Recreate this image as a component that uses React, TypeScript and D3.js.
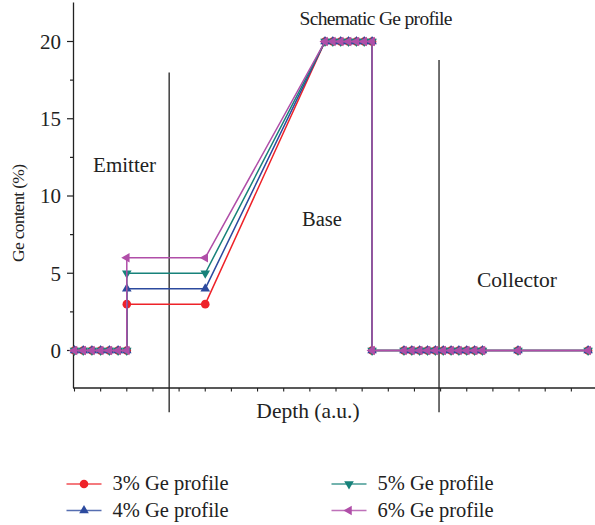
import React from "react";
import * as d3 from "d3";

// ---- data ----
const leftZeroX = [0, 0.333, 0.667, 1, 1.333, 1.667, 2];
const plateauX = [2, 5];
const topX = [9.58, 9.88, 10.18, 10.48, 10.78, 11.08, 11.38];
const dropX = [11.38];
const rightZeroX = [12.6, 12.9, 13.2, 13.5, 13.8, 14.1, 14.4, 14.7, 15.0, 15.3, 15.6, 16.96, 19.64];

const seriesNames = ["3% Ge profile", "4% Ge profile", "5% Ge profile", "6% Ge profile"];
const seriesLevels = [3, 4, 5, 6];
const peakLevel = 20;
const seriesColors = ["#ee2229", "#2c4a9e", "#17827a", "#b04ea8"];
const seriesMarkers = ["circle", "up", "down", "left"];

const yMajorTicks = [0, 5, 10, 15, 20];
const yMinorTicks = [2.5, 7.5, 12.5, 17.5];
const xTicks = d3.range(0, 21);

const regionLines = [
  { x: 3.62, top: 18, bottom: -4 },
  { x: 13.94, top: 18.8, bottom: -4 },
];
const annotations = [
  { text: "Schematic Ge profile", x: 11.53, y: 21.1, anchor: "middle", size: 19.5, len: 153 },
  { text: "Emitter", x: 0.71, y: 11.55, anchor: "start", size: 21, len: 0 },
  { text: "Base", x: 8.7, y: 8.06, anchor: "start", size: 20.5, len: 0 },
  { text: "Collector", x: 15.39, y: 4.1, anchor: "start", size: 21.5, len: 0 },
];

function buildSeries(level: number) {
  const pts: [number, number][] = [];
  leftZeroX.forEach((x) => pts.push([x, 0]));
  plateauX.forEach((x) => pts.push([x, level]));
  topX.forEach((x) => pts.push([x, peakLevel]));
  dropX.forEach((x) => pts.push([x, 0]));
  rightZeroX.forEach((x) => pts.push([x, 0]));
  return pts;
}

const W = 595;
const H = 525;
const x = d3.scaleLinear().domain([0, 20]).range([74.5, 597.5]);
const y = d3.scaleLinear().domain([0, 20]).range([350.5, 41.5]);
const yTop = 2.5;
const yBottom = 388;
const FONT = "'Liberation Serif', 'DejaVu Serif', serif";

const triPath = d3.symbol().type(d3.symbolTriangle).size(40)() as string;
const circPath = d3.symbol().type(d3.symbolCircle).size(58)() as string;

function Marker({ kind, cx, cy, color }: { kind: string; cx: number; cy: number; color: string }) {
  if (kind === "circle") return <path d={circPath} transform={`translate(${cx},${cy})`} fill={color} />;
  const rot = kind === "up" ? 0 : kind === "down" ? 180 : -90;
  return <path d={triPath} transform={`translate(${cx},${cy}) rotate(${rot})`} fill={color} />;
}

export default function App() {
  const line = d3
    .line<[number, number]>()
    .x((d) => x(d[0]))
    .y((d) => y(d[1]));

  return (
    <svg width={W} height={H} style={{ position: "absolute", left: 0, top: 0, background: "#fff" }}>
      {/* region boundary lines */}
      {regionLines.map((r, i) => (
        <line key={i} x1={x(r.x)} x2={x(r.x)} y1={y(r.top)} y2={y(r.bottom)} stroke="#222" strokeWidth={1.3} />
      ))}

      {/* axes */}
      <line x1={73.5} x2={73.5} y1={yTop} y2={yBottom} stroke="#222" strokeWidth={1.3} />
      <line x1={73} x2={W} y1={yBottom} y2={yBottom} stroke="#222" strokeWidth={1.3} />
      {yMajorTicks.map((t) => (
        <g key={t}>
          <line x1={67} x2={73.5} y1={y(t)} y2={y(t)} stroke="#222" strokeWidth={1.2} />
          <text x={61} y={y(t)} dy="0.35em" textAnchor="end" fontFamily={FONT} fontSize={21} fill="#222">
            {t}
          </text>
        </g>
      ))}
      {yMinorTicks.map((t) => (
        <line key={t} x1={70} x2={73.5} y1={y(t)} y2={y(t)} stroke="#222" strokeWidth={1.2} />
      ))}
      {xTicks.map((t) => (
        <line key={t} x1={x(t)} x2={x(t)} y1={yBottom} y2={yBottom + 3.5} stroke="#222" strokeWidth={1.1} />
      ))}

      {/* axis titles */}
      <text x={308} y={418} textAnchor="middle" fontFamily={FONT} fontSize={21.5} fill="#222">
        Depth (a.u.)
      </text>
      <text
        transform={`translate(24,${213}) rotate(-90)`}
        textAnchor="middle"
        fontFamily={FONT}
        fontSize={17.5}
        textLength={98}
        fill="#222"
      >
        Ge content (%)
      </text>

      {/* annotations */}
      {annotations.map((a) => (
        <text
          key={a.text}
          x={x(a.x)}
          y={y(a.y)}
          textAnchor={a.anchor}
          fontFamily={FONT}
          fontSize={a.size}
          textLength={a.len || undefined}
          fill="#222"
        >
          {a.text}
        </text>
      ))}

      {/* series */}
      {seriesLevels.map((lvl, i) => {
        const pts = buildSeries(lvl);
        return (
          <g key={i}>
            <path d={line(pts) as string} fill="none" stroke={seriesColors[i]} strokeWidth={1.5} />
            {pts.map((p, j) => (
              <Marker key={j} kind={seriesMarkers[i]} cx={x(p[0])} cy={y(p[1])} color={seriesColors[i]} />
            ))}
          </g>
        );
      })}

      {/* legend */}
      {seriesNames.map((name, i) => {
        const col = i < 2 ? 0 : 1;
        const row = i % 2;
        const lx = col === 0 ? 66.5 : 331.5;
        const ly = row === 0 ? 484 : 510.5;
        return (
          <g key={name}>
            <line x1={lx} x2={lx + 35} y1={ly} y2={ly} stroke={seriesColors[i]} strokeWidth={1.5} opacity={0.8} />
            <Marker kind={seriesMarkers[i]} cx={lx + 17.5} cy={ly} color={seriesColors[i]} />
            <text x={lx + 46} y={ly + 6} fontFamily={FONT} fontSize={20.5} fill="#222">
              {name}
            </text>
          </g>
        );
      })}
    </svg>
  );
}
